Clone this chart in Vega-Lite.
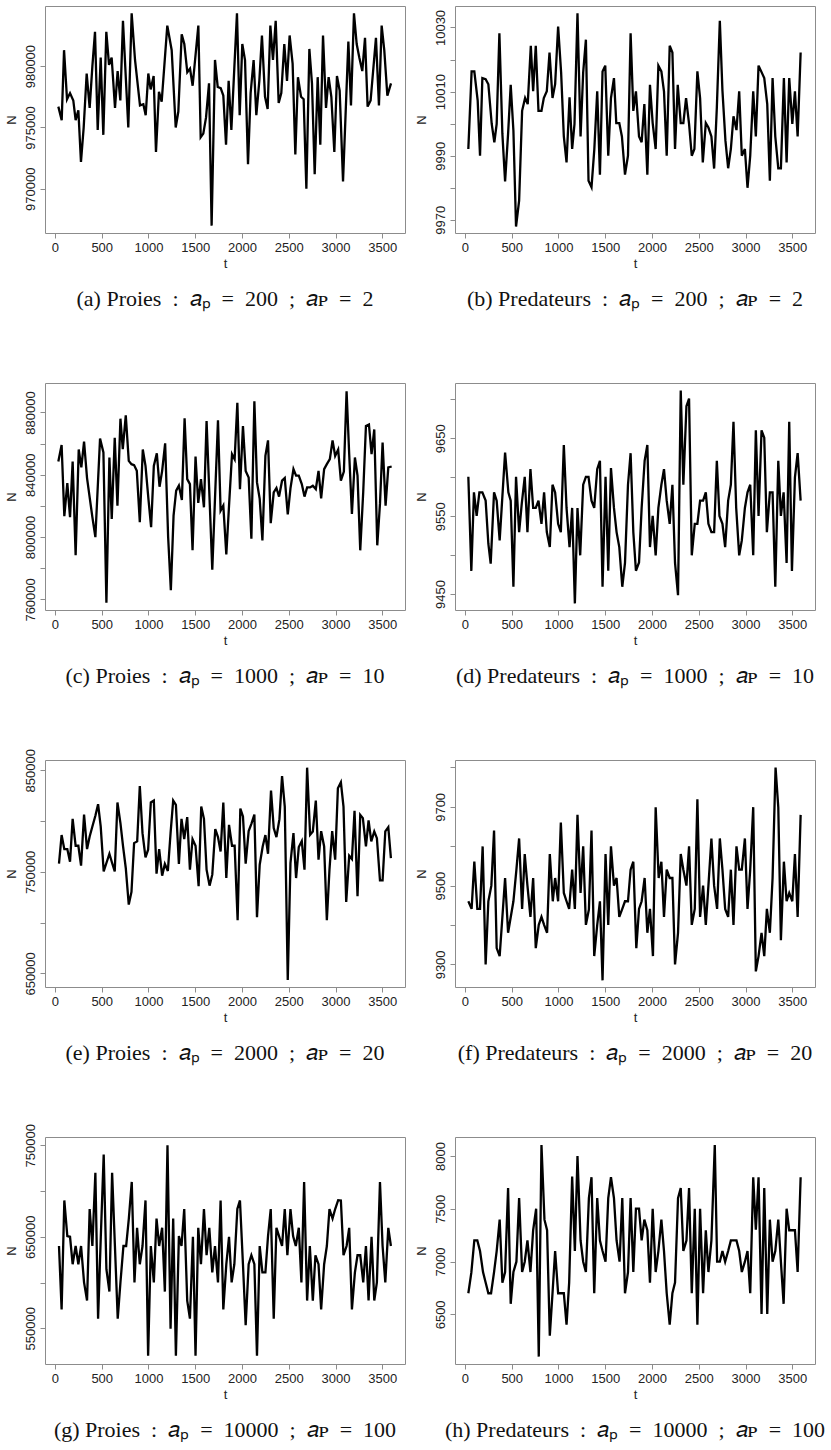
{
"$schema": "https://vega.github.io/schema/vega-lite/v6.json",
"autosize": {"type": "pad"},
"padding": {"left": 4, "top": 5, "right": 0, "bottom": 0},
"background": "white",
"bounds": "flush",
"columns": 2,
"spacing": {"row": 150, "column": 50},
"datasets": {
"a": [{"t":36,"N":976700},{"t":72,"N":975600},{"t":97,"N":981300},{"t":129,"N":977300},{"t":161,"N":977800},{"t":196,"N":977200},{"t":221,"N":975600},{"t":250,"N":976400},{"t":278,"N":972200},{"t":307,"N":975000},{"t":339,"N":979400},{"t":371,"N":976600},{"t":400,"N":980000},{"t":428,"N":982800},{"t":457,"N":974800},{"t":489,"N":980700},{"t":517,"N":974400},{"t":549,"N":982800},{"t":578,"N":980100},{"t":606,"N":980700},{"t":642,"N":976600},{"t":670,"N":979600},{"t":699,"N":977200},{"t":727,"N":983700},{"t":784,"N":975000},{"t":820,"N":984300},{"t":856,"N":980500},{"t":909,"N":976800},{"t":945,"N":976900},{"t":970,"N":976000},{"t":998,"N":979400},{"t":1023,"N":978100},{"t":1055,"N":979200},{"t":1080,"N":973000},{"t":1112,"N":977900},{"t":1141,"N":977100},{"t":1201,"N":983300},{"t":1248,"N":981300},{"t":1291,"N":975000},{"t":1319,"N":976300},{"t":1355,"N":982600},{"t":1383,"N":981800},{"t":1415,"N":979500},{"t":1444,"N":979800},{"t":1472,"N":978400},{"t":1533,"N":983300},{"t":1558,"N":974200},{"t":1586,"N":974500},{"t":1615,"N":975800},{"t":1647,"N":978600},{"t":1675,"N":967000},{"t":1711,"N":980500},{"t":1740,"N":978300},{"t":1772,"N":978200},{"t":1800,"N":977600},{"t":1829,"N":973600},{"t":1857,"N":978800},{"t":1886,"N":974800},{"t":1918,"N":979900},{"t":1946,"N":984300},{"t":1975,"N":976000},{"t":2003,"N":981800},{"t":2032,"N":980500},{"t":2064,"N":972000},{"t":2092,"N":977800},{"t":2124,"N":980500},{"t":2153,"N":976000},{"t":2185,"N":978800},{"t":2213,"N":982500},{"t":2246,"N":977500},{"t":2274,"N":976500},{"t":2303,"N":983300},{"t":2331,"N":980500},{"t":2360,"N":983700},{"t":2392,"N":977000},{"t":2420,"N":977800},{"t":2452,"N":981800},{"t":2481,"N":978800},{"t":2509,"N":982500},{"t":2541,"N":980200},{"t":2570,"N":972800},{"t":2598,"N":979100},{"t":2631,"N":977500},{"t":2659,"N":977300},{"t":2688,"N":970000},{"t":2720,"N":981400},{"t":2748,"N":978600},{"t":2777,"N":971200},{"t":2809,"N":979100},{"t":2837,"N":973600},{"t":2866,"N":982500},{"t":2898,"N":976600},{"t":2926,"N":979100},{"t":2955,"N":977500},{"t":2987,"N":973000},{"t":3015,"N":979200},{"t":3044,"N":978000},{"t":3080,"N":970600},{"t":3137,"N":982000},{"t":3165,"N":976800},{"t":3197,"N":984300},{"t":3226,"N":981800},{"t":3254,"N":980700},{"t":3286,"N":979600},{"t":3315,"N":982300},{"t":3343,"N":976700},{"t":3375,"N":977200},{"t":3432,"N":982300},{"t":3464,"N":976800},{"t":3493,"N":983300},{"t":3521,"N":981300},{"t":3554,"N":977600},{"t":3593,"N":978600}],
"b": [{"t":36,"N":9992.1},{"t":71,"N":10016.3},{"t":100,"N":10016.3},{"t":136,"N":10007.2},{"t":161,"N":9990.0},{"t":186,"N":10014.2},{"t":221,"N":10013.9},{"t":250,"N":10012.3},{"t":286,"N":9999.9},{"t":314,"N":9994.2},{"t":339,"N":9999.9},{"t":368,"N":10028.2},{"t":400,"N":9996.8},{"t":429,"N":9982},{"t":461,"N":9996.8},{"t":489,"N":10012.1},{"t":518,"N":9997.8},{"t":546,"N":9967.9},{"t":579,"N":9976},{"t":611,"N":10004},{"t":643,"N":10008},{"t":671,"N":10006.1},{"t":704,"N":10024.3},{"t":729,"N":10010.1},{"t":757,"N":10024.3},{"t":786,"N":10004},{"t":818,"N":10004},{"t":843,"N":10008},{"t":875,"N":10010.1},{"t":904,"N":10022.2},{"t":936,"N":10008},{"t":964,"N":10012.3},{"t":996,"N":10030.3},{"t":1028,"N":10016},{"t":1057,"N":9996},{"t":1086,"N":9987.9},{"t":1118,"N":10008.2},{"t":1146,"N":9992.1},{"t":1171,"N":9999.9},{"t":1203,"N":10034.4},{"t":1236,"N":9996},{"t":1264,"N":10016},{"t":1293,"N":10026.2},{"t":1321,"N":9982.2},{"t":1353,"N":9980.2},{"t":1383,"N":9992},{"t":1414,"N":10010.1},{"t":1443,"N":9984.1},{"t":1471,"N":10016.3},{"t":1500,"N":10018.1},{"t":1532,"N":9990},{"t":1561,"N":10008},{"t":1593,"N":10014.2},{"t":1618,"N":10000.2},{"t":1650,"N":10000.2},{"t":1678,"N":9996},{"t":1711,"N":9984.1},{"t":1743,"N":9990},{"t":1771,"N":10028.2},{"t":1800,"N":10004},{"t":1828,"N":10010.1},{"t":1861,"N":9996},{"t":1889,"N":9994.2},{"t":1918,"N":10006.1},{"t":1950,"N":9984.1},{"t":1978,"N":10012.1},{"t":2007,"N":10000.2},{"t":2039,"N":9992.1},{"t":2068,"N":10018.1},{"t":2100,"N":10016.3},{"t":2128,"N":10010.1},{"t":2157,"N":9990},{"t":2189,"N":10024.3},{"t":2218,"N":10022.2},{"t":2246,"N":9992.1},{"t":2275,"N":10012.1},{"t":2307,"N":10000.2},{"t":2335,"N":10000.2},{"t":2364,"N":10008},{"t":2396,"N":9999.9},{"t":2425,"N":9990},{"t":2453,"N":9992.1},{"t":2485,"N":10016.3},{"t":2514,"N":10008},{"t":2543,"N":9987.9},{"t":2575,"N":10000.2},{"t":2603,"N":9998.8},{"t":2635,"N":9996},{"t":2664,"N":9986},{"t":2693,"N":10005},{"t":2725,"N":10032.1},{"t":2753,"N":10010.3},{"t":2785,"N":9994.7},{"t":2814,"N":9986.1},{"t":2843,"N":9992.1},{"t":2871,"N":10002.3},{"t":2903,"N":9998},{"t":2932,"N":10010.1},{"t":2960,"N":9990},{"t":2993,"N":9992.1},{"t":3021,"N":9980},{"t":3050,"N":9990},{"t":3082,"N":10010.1},{"t":3110,"N":9996},{"t":3139,"N":10018.1},{"t":3200,"N":10014.2},{"t":3232,"N":10006.1},{"t":3260,"N":9982.2},{"t":3289,"N":10014.2},{"t":3318,"N":9996},{"t":3350,"N":9986.1},{"t":3378,"N":9986.1},{"t":3410,"N":10014.2},{"t":3439,"N":9987.9},{"t":3467,"N":10014.2},{"t":3500,"N":9999.9},{"t":3528,"N":10010.1},{"t":3557,"N":9996},{"t":3589,"N":10022.2}],
"c": [{"t":36,"N":848500},{"t":71,"N":859100},{"t":100,"N":813400},{"t":132,"N":834700},{"t":161,"N":812800},{"t":189,"N":848500},{"t":221,"N":788300},{"t":254,"N":856200},{"t":282,"N":844700},{"t":311,"N":861300},{"t":343,"N":837900},{"t":371,"N":825500},{"t":400,"N":812800},{"t":432,"N":800000},{"t":482,"N":863200},{"t":518,"N":854300},{"t":550,"N":757900},{"t":582,"N":851100},{"t":607,"N":811700},{"t":639,"N":863800},{"t":668,"N":820200},{"t":700,"N":876000},{"t":725,"N":856400},{"t":757,"N":878100},{"t":789,"N":848900},{"t":818,"N":846800},{"t":846,"N":846200},{"t":875,"N":842500},{"t":907,"N":809600},{"t":939,"N":856200},{"t":968,"N":845700},{"t":1000,"N":824000},{"t":1028,"N":806400},{"t":1057,"N":845700},{"t":1089,"N":853800},{"t":1118,"N":832300},{"t":1146,"N":842500},{"t":1178,"N":860200},{"t":1210,"N":800000},{"t":1239,"N":765900},{"t":1268,"N":813800},{"t":1296,"N":829800},{"t":1325,"N":833000},{"t":1357,"N":823800},{"t":1386,"N":876200},{"t":1414,"N":837200},{"t":1443,"N":834000},{"t":1471,"N":791500},{"t":1503,"N":851700},{"t":1532,"N":821900},{"t":1561,"N":837200},{"t":1593,"N":819100},{"t":1621,"N":874500},{"t":1682,"N":779100},{"t":1743,"N":874900},{"t":1771,"N":817000},{"t":1800,"N":820200},{"t":1832,"N":788900},{"t":1861,"N":820000},{"t":1893,"N":853200},{"t":1921,"N":850000},{"t":1950,"N":886200},{"t":1978,"N":830800},{"t":2010,"N":871300},{"t":2039,"N":842500},{"t":2071,"N":838300},{"t":2100,"N":798900},{"t":2132,"N":887200},{"t":2160,"N":835100},{"t":2189,"N":824500},{"t":2218,"N":797900},{"t":2250,"N":852100},{"t":2278,"N":862100},{"t":2307,"N":808900},{"t":2339,"N":828700},{"t":2368,"N":831500},{"t":2396,"N":826000},{"t":2428,"N":836200},{"t":2457,"N":837900},{"t":2489,"N":814500},{"t":2518,"N":831300},{"t":2550,"N":843600},{"t":2578,"N":839400},{"t":2607,"N":839400},{"t":2639,"N":834000},{"t":2668,"N":826000},{"t":2696,"N":831900},{"t":2728,"N":831900},{"t":2757,"N":833000},{"t":2789,"N":830800},{"t":2818,"N":842500},{"t":2846,"N":824900},{"t":2878,"N":843600},{"t":2907,"N":846800},{"t":2939,"N":850000},{"t":2968,"N":862100},{"t":2996,"N":852100},{"t":3028,"N":856200},{"t":3057,"N":836200},{"t":3089,"N":842100},{"t":3118,"N":893600},{"t":3146,"N":853200},{"t":3175,"N":814900},{"t":3207,"N":851100},{"t":3235,"N":839400},{"t":3264,"N":791500},{"t":3296,"N":829100},{"t":3325,"N":871300},{"t":3357,"N":872300},{"t":3385,"N":853200},{"t":3414,"N":869100},{"t":3446,"N":794700},{"t":3475,"N":821300},{"t":3503,"N":860600},{"t":3535,"N":820200},{"t":3564,"N":844700},{"t":3600,"N":845300}],
"d": [{"t":36,"N":9600.6},{"t":68,"N":9479.8},{"t":96,"N":9580.6},{"t":125,"N":9550.4},{"t":154,"N":9580.6},{"t":186,"N":9580.6},{"t":221,"N":9570},{"t":250,"N":9514.7},{"t":275,"N":9489.1},{"t":311,"N":9580.6},{"t":339,"N":9570},{"t":371,"N":9518.9},{"t":429,"N":9631.7},{"t":464,"N":9580.6},{"t":489,"N":9570},{"t":518,"N":9459.4},{"t":546,"N":9600.6},{"t":579,"N":9529.6},{"t":607,"N":9565.7},{"t":639,"N":9600.6},{"t":668,"N":9529.6},{"t":700,"N":9610.4},{"t":729,"N":9560.6},{"t":757,"N":9560.6},{"t":786,"N":9570},{"t":818,"N":9540.2},{"t":846,"N":9580.6},{"t":875,"N":9529.6},{"t":907,"N":9510.4},{"t":936,"N":9590.4},{"t":964,"N":9580.6},{"t":996,"N":9540.2},{"t":1025,"N":9529.6},{"t":1057,"N":9641.5},{"t":1086,"N":9560.6},{"t":1118,"N":9510.4},{"t":1146,"N":9560.6},{"t":1175,"N":9438.1},{"t":1203,"N":9560.6},{"t":1232,"N":9499.8},{"t":1264,"N":9590.4},{"t":1293,"N":9600.6},{"t":1321,"N":9600.6},{"t":1353,"N":9570},{"t":1382,"N":9560.6},{"t":1414,"N":9610.4},{"t":1443,"N":9621.1},{"t":1471,"N":9459.4},{"t":1503,"N":9600.6},{"t":1532,"N":9480},{"t":1561,"N":9611.7},{"t":1593,"N":9560.6},{"t":1621,"N":9529.6},{"t":1650,"N":9510.4},{"t":1682,"N":9459.4},{"t":1711,"N":9490},{"t":1743,"N":9590.4},{"t":1771,"N":9630.9},{"t":1800,"N":9529.6},{"t":1828,"N":9480},{"t":1861,"N":9490.6},{"t":1889,"N":9560.6},{"t":1921,"N":9621.1},{"t":1950,"N":9641.5},{"t":1978,"N":9510.4},{"t":2007,"N":9550.4},{"t":2039,"N":9499.8},{"t":2068,"N":9560.6},{"t":2100,"N":9590.4},{"t":2128,"N":9610.4},{"t":2157,"N":9570},{"t":2189,"N":9540.2},{"t":2218,"N":9590.4},{"t":2246,"N":9490},{"t":2278,"N":9448.7},{"t":2307,"N":9711.3},{"t":2335,"N":9590.4},{"t":2368,"N":9691.3},{"t":2396,"N":9701.1},{"t":2425,"N":9499.8},{"t":2457,"N":9540.2},{"t":2485,"N":9540.2},{"t":2514,"N":9570},{"t":2546,"N":9570},{"t":2575,"N":9580.6},{"t":2603,"N":9540.2},{"t":2635,"N":9529.6},{"t":2664,"N":9529.6},{"t":2693,"N":9621.1},{"t":2721,"N":9550.4},{"t":2753,"N":9540.2},{"t":2782,"N":9510.4},{"t":2814,"N":9570},{"t":2843,"N":9590.4},{"t":2871,"N":9671.3},{"t":2900,"N":9560.6},{"t":2932,"N":9499.8},{"t":2960,"N":9518.9},{"t":2993,"N":9560.6},{"t":3021,"N":9580.6},{"t":3050,"N":9590.4},{"t":3082,"N":9499.8},{"t":3110,"N":9660.2},{"t":3139,"N":9550.4},{"t":3171,"N":9660.2},{"t":3200,"N":9650.9},{"t":3228,"N":9529.6},{"t":3260,"N":9580.6},{"t":3289,"N":9580.6},{"t":3318,"N":9459.4},{"t":3350,"N":9621.1},{"t":3378,"N":9550.4},{"t":3407,"N":9580.6},{"t":3439,"N":9490},{"t":3467,"N":9671.3},{"t":3496,"N":9479.8},{"t":3528,"N":9599.8},{"t":3557,"N":9630.9},{"t":3589,"N":9570}],
"e": [{"t":43,"N":758000},{"t":71,"N":786200},{"t":100,"N":772400},{"t":132,"N":772400},{"t":161,"N":760000},{"t":189,"N":802200},{"t":221,"N":775700},{"t":250,"N":775700},{"t":279,"N":756100},{"t":311,"N":806500},{"t":343,"N":772400},{"t":371,"N":784900},{"t":400,"N":794700},{"t":432,"N":805200},{"t":461,"N":816600},{"t":489,"N":794700},{"t":521,"N":750500},{"t":550,"N":758700},{"t":582,"N":767800},{"t":611,"N":758700},{"t":639,"N":750500},{"t":668,"N":818300},{"t":700,"N":798000},{"t":728,"N":775000},{"t":757,"N":753800},{"t":789,"N":717800},{"t":818,"N":730200},{"t":846,"N":778300},{"t":879,"N":780000},{"t":907,"N":834600},{"t":936,"N":788100},{"t":968,"N":764200},{"t":996,"N":771800},{"t":1025,"N":818300},{"t":1057,"N":820200},{"t":1086,"N":748200},{"t":1114,"N":772400},{"t":1146,"N":746200},{"t":1175,"N":757700},{"t":1207,"N":750800},{"t":1236,"N":788100},{"t":1264,"N":820200},{"t":1293,"N":816000},{"t":1325,"N":757700},{"t":1353,"N":802200},{"t":1382,"N":782200},{"t":1414,"N":803900},{"t":1443,"N":752100},{"t":1471,"N":782200},{"t":1503,"N":775700},{"t":1536,"N":735800},{"t":1564,"N":814300},{"t":1593,"N":802200},{"t":1621,"N":752100},{"t":1653,"N":736400},{"t":1682,"N":747200},{"t":1714,"N":792100},{"t":1743,"N":784200},{"t":1771,"N":770100},{"t":1800,"N":818300},{"t":1832,"N":743900},{"t":1861,"N":796300},{"t":1893,"N":775700},{"t":1921,"N":775700},{"t":1953,"N":702400},{"t":1982,"N":812400},{"t":2010,"N":804500},{"t":2039,"N":758000},{"t":2071,"N":790100},{"t":2100,"N":797300},{"t":2132,"N":806500},{"t":2160,"N":705300},{"t":2189,"N":757000},{"t":2221,"N":775000},{"t":2250,"N":786200},{"t":2278,"N":767800},{"t":2310,"N":830000},{"t":2339,"N":793100},{"t":2368,"N":784200},{"t":2400,"N":801900},{"t":2428,"N":844400},{"t":2457,"N":814300},{"t":2489,"N":643500},{"t":2518,"N":758700},{"t":2550,"N":788100},{"t":2578,"N":743900},{"t":2607,"N":774400},{"t":2639,"N":780300},{"t":2668,"N":752100},{"t":2696,"N":852600},{"t":2728,"N":786500},{"t":2757,"N":789800},{"t":2789,"N":820200},{"t":2818,"N":762000},{"t":2846,"N":790100},{"t":2878,"N":775000},{"t":2907,"N":702400},{"t":2935,"N":752100},{"t":2964,"N":790100},{"t":2996,"N":762000},{"t":3025,"N":832300},{"t":3057,"N":838200},{"t":3085,"N":814300},{"t":3114,"N":720400},{"t":3146,"N":765900},{"t":3175,"N":762600},{"t":3203,"N":810100},{"t":3235,"N":726000},{"t":3264,"N":806100},{"t":3292,"N":802900},{"t":3325,"N":775000},{"t":3353,"N":800600},{"t":3382,"N":780000},{"t":3414,"N":789800},{"t":3442,"N":783200},{"t":3475,"N":741700},{"t":3503,"N":741700},{"t":3532,"N":789800},{"t":3564,"N":794000},{"t":3592,"N":763600}],
"f": [{"t":36,"N":9460.3},{"t":71,"N":9440.9},{"t":100,"N":9560.8},{"t":132,"N":9440.9},{"t":161,"N":9440.9},{"t":189,"N":9599.6},{"t":221,"N":9300},{"t":250,"N":9460.3},{"t":282,"N":9500},{"t":311,"N":9640.1},{"t":339,"N":9341.4},{"t":371,"N":9321.1},{"t":429,"N":9519.4},{"t":461,"N":9380.2},{"t":489,"N":9419.8},{"t":518,"N":9460.3},{"t":550,"N":9540.5},{"t":579,"N":9619.8},{"t":611,"N":9440.9},{"t":639,"N":9580.2},{"t":668,"N":9500},{"t":700,"N":9420.7},{"t":729,"N":9519.4},{"t":757,"N":9341.4},{"t":789,"N":9400.4},{"t":818,"N":9420.7},{"t":846,"N":9400.4},{"t":878,"N":9380.2},{"t":907,"N":9580.2},{"t":939,"N":9460.3},{"t":964,"N":9519.4},{"t":996,"N":9460.3},{"t":1025,"N":9660.3},{"t":1057,"N":9481.4},{"t":1086,"N":9460.3},{"t":1114,"N":9440.9},{"t":1146,"N":9540.5},{"t":1175,"N":9440.9},{"t":1203,"N":9679.7},{"t":1236,"N":9481.4},{"t":1264,"N":9599.6},{"t":1293,"N":9400.4},{"t":1325,"N":9439.2},{"t":1353,"N":9640.1},{"t":1382,"N":9321.1},{"t":1414,"N":9400},{"t":1443,"N":9460.3},{"t":1471,"N":9259.5},{"t":1503,"N":9580.2},{"t":1532,"N":9400.4},{"t":1561,"N":9599.6},{"t":1593,"N":9500},{"t":1621,"N":9519.4},{"t":1650,"N":9420.7},{"t":1682,"N":9440.9},{"t":1711,"N":9460.3},{"t":1743,"N":9460.3},{"t":1771,"N":9540.5},{"t":1800,"N":9560.8},{"t":1832,"N":9341.4},{"t":1861,"N":9440.9},{"t":1889,"N":9460.3},{"t":1921,"N":9519.4},{"t":1950,"N":9380.2},{"t":1978,"N":9440.9},{"t":2010,"N":9321.1},{"t":2039,"N":9699.2},{"t":2071,"N":9519.4},{"t":2100,"N":9560.8},{"t":2128,"N":9420.7},{"t":2157,"N":9540.5},{"t":2189,"N":9519.4},{"t":2218,"N":9519.4},{"t":2246,"N":9300},{"t":2278,"N":9380.2},{"t":2307,"N":9580.2},{"t":2335,"N":9540.5},{"t":2368,"N":9500},{"t":2396,"N":9599.6},{"t":2425,"N":9400.4},{"t":2457,"N":9440.9},{"t":2485,"N":9719.4},{"t":2514,"N":9420.7},{"t":2546,"N":9500},{"t":2575,"N":9400.4},{"t":2603,"N":9500},{"t":2635,"N":9619.8},{"t":2664,"N":9500},{"t":2696,"N":9440.9},{"t":2725,"N":9619.8},{"t":2753,"N":9540.5},{"t":2782,"N":9440.9},{"t":2814,"N":9420.7},{"t":2843,"N":9540.5},{"t":2871,"N":9400.4},{"t":2903,"N":9599.6},{"t":2932,"N":9540.5},{"t":2960,"N":9540.5},{"t":2993,"N":9619.8},{"t":3021,"N":9440.9},{"t":3050,"N":9540.5},{"t":3082,"N":9699.2},{"t":3110,"N":9282.3},{"t":3139,"N":9321.1},{"t":3171,"N":9380.2},{"t":3200,"N":9321.1},{"t":3228,"N":9440.9},{"t":3260,"N":9380.2},{"t":3289,"N":9519.4},{"t":3321,"N":9799.6},{"t":3350,"N":9699.2},{"t":3378,"N":9361.6},{"t":3410,"N":9560.8},{"t":3439,"N":9460.3},{"t":3467,"N":9481.4},{"t":3500,"N":9460.3},{"t":3528,"N":9580.2},{"t":3557,"N":9420.7},{"t":3589,"N":9679.7}],
"g": [{"t":43,"N":639900},{"t":71,"N":570600},{"t":100,"N":689700},{"t":132,"N":650700},{"t":161,"N":650000},{"t":189,"N":620000},{"t":221,"N":639900},{"t":250,"N":620000},{"t":279,"N":639900},{"t":311,"N":600200},{"t":343,"N":580300},{"t":371,"N":680300},{"t":400,"N":639900},{"t":432,"N":720000},{"t":461,"N":560500},{"t":490,"N":650000},{"t":521,"N":739900},{"t":550,"N":614600},{"t":582,"N":590100},{"t":611,"N":720000},{"t":641,"N":640000},{"t":671,"N":560500},{"t":700,"N":600000},{"t":732,"N":639900},{"t":761,"N":639900},{"t":790,"N":670000},{"t":821,"N":709900},{"t":850,"N":600200},{"t":878,"N":659800},{"t":907,"N":620000},{"t":936,"N":639900},{"t":968,"N":689700},{"t":996,"N":520000},{"t":1025,"N":639900},{"t":1057,"N":600200},{"t":1086,"N":669900},{"t":1114,"N":639900},{"t":1146,"N":659800},{"t":1175,"N":590100},{"t":1203,"N":750000},{"t":1236,"N":549600},{"t":1264,"N":669900},{"t":1293,"N":520000},{"t":1325,"N":650700},{"t":1353,"N":639900},{"t":1382,"N":680300},{"t":1414,"N":580300},{"t":1443,"N":560500},{"t":1475,"N":650000},{"t":1503,"N":520000},{"t":1532,"N":659800},{"t":1561,"N":620000},{"t":1593,"N":680300},{"t":1621,"N":629800},{"t":1650,"N":659800},{"t":1682,"N":611000},{"t":1711,"N":639900},{"t":1743,"N":600200},{"t":1771,"N":689700},{"t":1800,"N":570600},{"t":1832,"N":620000},{"t":1861,"N":650000},{"t":1889,"N":600200},{"t":1918,"N":620000},{"t":1950,"N":680300},{"t":1978,"N":689700},{"t":2010,"N":620000},{"t":2039,"N":553300},{"t":2071,"N":620000},{"t":2100,"N":629800},{"t":2132,"N":620000},{"t":2160,"N":520000},{"t":2189,"N":639900},{"t":2218,"N":611000},{"t":2250,"N":611000},{"t":2278,"N":650700},{"t":2307,"N":680300},{"t":2339,"N":560500},{"t":2368,"N":659800},{"t":2396,"N":650700},{"t":2428,"N":639900},{"t":2457,"N":680300},{"t":2485,"N":629800},{"t":2518,"N":680300},{"t":2546,"N":650700},{"t":2575,"N":639900},{"t":2607,"N":659800},{"t":2635,"N":600200},{"t":2664,"N":709900},{"t":2696,"N":580300},{"t":2725,"N":639900},{"t":2757,"N":580300},{"t":2785,"N":629800},{"t":2818,"N":620000},{"t":2846,"N":570600},{"t":2878,"N":620000},{"t":2907,"N":639900},{"t":2935,"N":680300},{"t":2968,"N":669900},{"t":2996,"N":680300},{"t":3028,"N":690000},{"t":3057,"N":689700},{"t":3085,"N":629800},{"t":3118,"N":639900},{"t":3146,"N":659800},{"t":3175,"N":570600},{"t":3207,"N":611000},{"t":3235,"N":629800},{"t":3264,"N":629800},{"t":3296,"N":600200},{"t":3325,"N":639900},{"t":3353,"N":580300},{"t":3385,"N":650000},{"t":3414,"N":580300},{"t":3442,"N":600200},{"t":3475,"N":709900},{"t":3503,"N":639900},{"t":3532,"N":600200},{"t":3564,"N":659800},{"t":3592,"N":639900}],
"h": [{"t":36,"N":6700},{"t":68,"N":6895},{"t":100,"N":7200},{"t":132,"N":7200},{"t":161,"N":7100},{"t":193,"N":6901},{"t":221,"N":6801},{"t":250,"N":6700},{"t":279,"N":6700},{"t":311,"N":6901},{"t":339,"N":7100},{"t":371,"N":7397},{"t":400,"N":6801},{"t":429,"N":6901},{"t":461,"N":7696},{"t":489,"N":6600},{"t":518,"N":6901},{"t":550,"N":6999},{"t":579,"N":7601},{"t":611,"N":6901},{"t":639,"N":6999},{"t":668,"N":7200},{"t":700,"N":6901},{"t":729,"N":7297},{"t":761,"N":7501},{"t":789,"N":6100},{"t":818,"N":8104},{"t":850,"N":7397},{"t":878,"N":7297},{"t":907,"N":6299},{"t":936,"N":6700},{"t":964,"N":7100},{"t":996,"N":6700},{"t":1025,"N":6700},{"t":1057,"N":6700},{"t":1086,"N":6402},{"t":1114,"N":6801},{"t":1146,"N":7805},{"t":1175,"N":7100},{"t":1203,"N":8000},{"t":1236,"N":7200},{"t":1264,"N":6999},{"t":1293,"N":6901},{"t":1325,"N":7601},{"t":1353,"N":7799},{"t":1382,"N":6700},{"t":1414,"N":7601},{"t":1443,"N":7200},{"t":1471,"N":7100},{"t":1503,"N":6999},{"t":1532,"N":7601},{"t":1561,"N":7799},{"t":1593,"N":7601},{"t":1621,"N":7200},{"t":1653,"N":6999},{"t":1682,"N":7601},{"t":1711,"N":6700},{"t":1743,"N":6901},{"t":1771,"N":7601},{"t":1800,"N":6901},{"t":1828,"N":7501},{"t":1861,"N":7501},{"t":1889,"N":7200},{"t":1918,"N":7397},{"t":1950,"N":7297},{"t":1978,"N":6801},{"t":2007,"N":7501},{"t":2039,"N":6901},{"t":2068,"N":7100},{"t":2100,"N":7397},{"t":2128,"N":7100},{"t":2157,"N":6700},{"t":2189,"N":6402},{"t":2218,"N":6700},{"t":2246,"N":6801},{"t":2278,"N":7601},{"t":2307,"N":7696},{"t":2335,"N":7100},{"t":2368,"N":7200},{"t":2396,"N":7696},{"t":2425,"N":6700},{"t":2457,"N":7501},{"t":2485,"N":6402},{"t":2514,"N":7501},{"t":2546,"N":6700},{"t":2575,"N":7297},{"t":2603,"N":6901},{"t":2635,"N":7200},{"t":2671,"N":8104},{"t":2696,"N":6999},{"t":2725,"N":6999},{"t":2753,"N":7100},{"t":2782,"N":6999},{"t":2814,"N":7100},{"t":2843,"N":7200},{"t":2871,"N":7200},{"t":2903,"N":7200},{"t":2932,"N":7100},{"t":2960,"N":6901},{"t":2993,"N":6999},{"t":3021,"N":7100},{"t":3050,"N":6700},{"t":3082,"N":7799},{"t":3110,"N":7303},{"t":3139,"N":7799},{"t":3171,"N":6503},{"t":3200,"N":7696},{"t":3232,"N":6503},{"t":3260,"N":7397},{"t":3289,"N":6999},{"t":3318,"N":7100},{"t":3350,"N":7397},{"t":3378,"N":6999},{"t":3407,"N":6600},{"t":3439,"N":7501},{"t":3467,"N":7297},{"t":3496,"N":7297},{"t":3528,"N":7297},{"t":3557,"N":6901},{"t":3589,"N":7799}]
},
"concat": [
{"width": 360, "height": 227, "data": {"name": "a"}, "title": {"text": "(a) Proies\u2002:\u2002𝑎ₚ\u2002=\u2002200\u2002;\u2002𝑎ᴘ\u2002=\u20022"},
 "mark": {"type": "line", "color": "black", "strokeWidth": 2.3},
 "encoding": {"x": {"field": "t", "type": "quantitative", "scale": {"domain": [-106.6, 3742.6], "nice": false, "zero": false}, "axis": {"values": [0,500,1000,1500,2000,2500,3000,3500], "title": "t", "format": "d"}},
  "y": {"field": "N", "type": "quantitative", "scale": {"domain": [966400, 984900], "nice": false, "zero": false}, "axis": {"values": [970000,975000,980000], "title": "N", "format": "d"}}}},
{"width": 360, "height": 227, "data": {"name": "b"}, "title": {"text": "(b) Predateurs\u2002:\u2002𝑎ₚ\u2002=\u2002200\u2002;\u2002𝑎ᴘ\u2002=\u20022"},
 "mark": {"type": "line", "color": "black", "strokeWidth": 2.3},
 "encoding": {"x": {"field": "t", "type": "quantitative", "scale": {"domain": [-106.6, 3742.6], "nice": false, "zero": false}, "axis": {"values": [0,500,1000,1500,2000,2500,3000,3500], "title": "t", "format": "d"}},
  "y": {"field": "N", "type": "quantitative", "scale": {"domain": [9965.9, 10036.7], "nice": false, "zero": false}, "axis": {"values": [9970,9980,9990,10000,10010,10020,10030], "title": "N", "format": "d", "labelExpr": "(datum.value - 9970) % 20 == 0 ? datum.label : ''"}}}},
{"width": 360, "height": 227, "data": {"name": "c"}, "title": {"text": "(c) Proies\u2002:\u2002𝑎ₚ\u2002=\u20021000\u2002;\u2002𝑎ᴘ\u2002=\u200210"},
 "mark": {"type": "line", "color": "black", "strokeWidth": 2.3},
 "encoding": {"x": {"field": "t", "type": "quantitative", "scale": {"domain": [-106.6, 3742.6], "nice": false, "zero": false}, "axis": {"values": [0,500,1000,1500,2000,2500,3000,3500], "title": "t", "format": "d"}},
  "y": {"field": "N", "type": "quantitative", "scale": {"domain": [753200, 898900], "nice": false, "zero": false}, "axis": {"values": [760000,780000,800000,820000,840000,860000,880000], "title": "N", "format": "d", "labelExpr": "(datum.value - 760000) % 40000 == 0 ? datum.label : ''"}}}},
{"width": 360, "height": 227, "data": {"name": "d"}, "title": {"text": "(d) Predateurs\u2002:\u2002𝑎ₚ\u2002=\u20021000\u2002;\u2002𝑎ᴘ\u2002=\u200210"},
 "mark": {"type": "line", "color": "black", "strokeWidth": 2.3},
 "encoding": {"x": {"field": "t", "type": "quantitative", "scale": {"domain": [-106.6, 3742.6], "nice": false, "zero": false}, "axis": {"values": [0,500,1000,1500,2000,2500,3000,3500], "title": "t", "format": "d"}},
  "y": {"field": "N", "type": "quantitative", "scale": {"domain": [9429.6, 9721], "nice": false, "zero": false}, "axis": {"values": [9450,9500,9550,9600,9650,9700], "title": "N", "format": "d", "labelExpr": "(datum.value - 9450) % 100 == 0 ? datum.label : ''"}}}},
{"width": 360, "height": 227, "data": {"name": "e"}, "title": {"text": "(e) Proies\u2002:\u2002𝑎ₚ\u2002=\u20022000\u2002;\u2002𝑎ᴘ\u2002=\u200220"},
 "mark": {"type": "line", "color": "black", "strokeWidth": 2.3},
 "encoding": {"x": {"field": "t", "type": "quantitative", "scale": {"domain": [-106.6, 3742.6], "nice": false, "zero": false}, "axis": {"values": [0,500,1000,1500,2000,2500,3000,3500], "title": "t", "format": "d"}},
  "y": {"field": "N", "type": "quantitative", "scale": {"domain": [636600, 860150], "nice": false, "zero": false}, "axis": {"values": [650000,700000,750000,800000,850000], "title": "N", "format": "d", "labelExpr": "(datum.value - 650000) % 100000 == 0 ? datum.label : ''"}}}},
{"width": 360, "height": 227, "data": {"name": "f"}, "title": {"text": "(f) Predateurs\u2002:\u2002𝑎ₚ\u2002=\u20022000\u2002;\u2002𝑎ᴘ\u2002=\u200220"},
 "mark": {"type": "line", "color": "black", "strokeWidth": 2.3},
 "encoding": {"x": {"field": "t", "type": "quantitative", "scale": {"domain": [-106.6, 3742.6], "nice": false, "zero": false}, "axis": {"values": [0,500,1000,1500,2000,2500,3000,3500], "title": "t", "format": "d"}},
  "y": {"field": "N", "type": "quantitative", "scale": {"domain": [9242.6, 9819], "nice": false, "zero": false}, "axis": {"values": [9300,9400,9500,9600,9700,9800], "title": "N", "format": "d", "labelExpr": "(datum.value - 9300) % 200 == 0 ? datum.label : ''"}}}},
{"width": 360, "height": 227, "data": {"name": "g"}, "title": {"text": "(g) Proies\u2002:\u2002𝑎ₚ\u2002=\u200210000\u2002;\u2002𝑎ᴘ\u2002=\u2002100"},
 "mark": {"type": "line", "color": "black", "strokeWidth": 2.3},
 "encoding": {"x": {"field": "t", "type": "quantitative", "scale": {"domain": [-106.6, 3742.6], "nice": false, "zero": false}, "axis": {"values": [0,500,1000,1500,2000,2500,3000,3500], "title": "t", "format": "d"}},
  "y": {"field": "N", "type": "quantitative", "scale": {"domain": [511000, 759000], "nice": false, "zero": false}, "axis": {"values": [550000,600000,650000,700000,750000], "title": "N", "format": "d", "labelExpr": "(datum.value - 550000) % 100000 == 0 ? datum.label : ''"}}}},
{"width": 360, "height": 227, "data": {"name": "h"}, "title": {"text": "(h) Predateurs\u2002:\u2002𝑎ₚ\u2002=\u200210000\u2002;\u2002𝑎ᴘ\u2002=\u2002100"},
 "mark": {"type": "line", "color": "black", "strokeWidth": 2.3},
 "encoding": {"x": {"field": "t", "type": "quantitative", "scale": {"domain": [-106.6, 3742.6], "nice": false, "zero": false}, "axis": {"values": [0,500,1000,1500,2000,2500,3000,3500], "title": "t", "format": "d"}},
  "y": {"field": "N", "type": "quantitative", "scale": {"domain": [6030, 8180], "nice": false, "zero": false}, "axis": {"values": [6500,7000,7500,8000], "title": "N", "format": "d"}}}}
],
"config": {
 "view": {"stroke": "#8c8c8c", "strokeWidth": 1},
 "axis": {"domain": false, "grid": false, "tickColor": "#8c8c8c", "tickSize": 5, "tickWidth": 1, "labelFont": "Liberation Sans Narrow, Liberation Sans, sans-serif", "labelFontSize": 13, "labelColor": "#222222", "titleFont": "Liberation Sans Narrow, Liberation Sans, sans-serif", "titleFontSize": 13, "titleFontWeight": "normal", "titleColor": "#222222", "labelPadding": 3, "labelOverlap": false, "labelFlush": false},
 "axisY": {"labelAngle": -90, "titlePadding": 6},
 "axisX": {"titlePadding": 3},
 "title": {"font": "Liberation Serif", "fontSize": 22, "fontWeight": "normal", "color": "#111111", "orient": "bottom", "offset": 19, "anchor": "middle"}
}
}
